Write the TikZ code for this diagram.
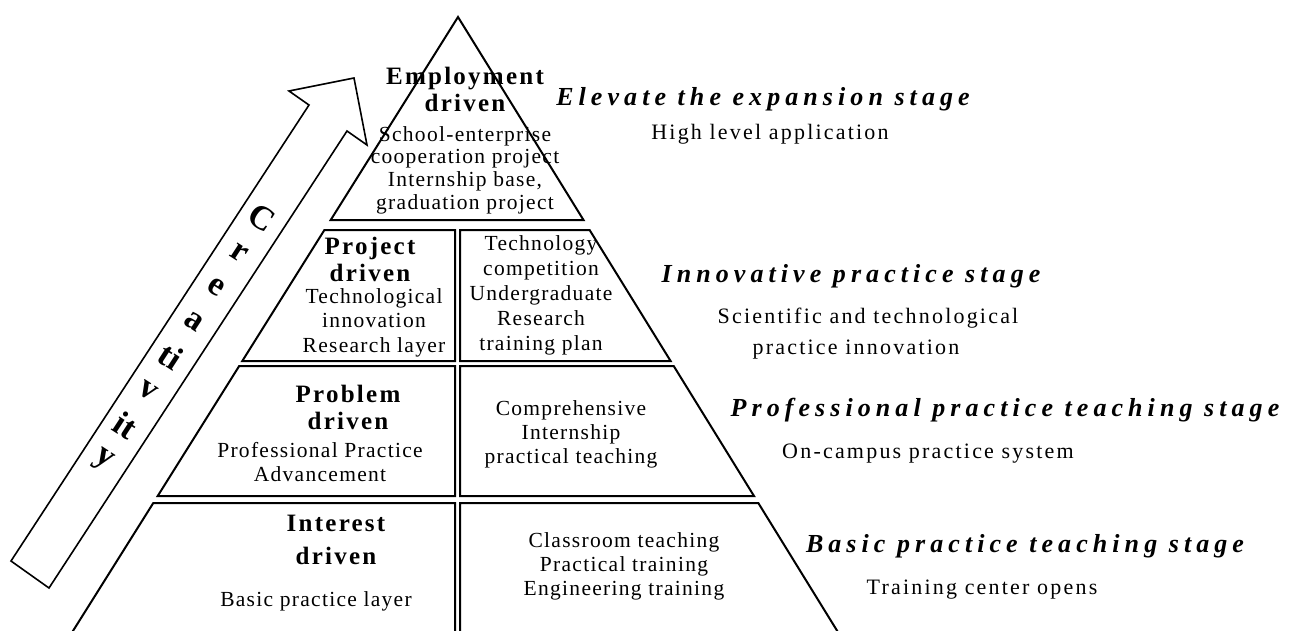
\documentclass[tikz,border=0pt]{standalone}
\usepackage{fontspec}
\setmainfont{Liberation Serif}
\newfontfamily\bodyfont[LetterSpace=6]{Liberation Serif}
\newfontfamily\labfont[LetterSpace=10]{Liberation Serif}
\newfontfamily\ttlfont[LetterSpace=9]{Liberation Serif}
\newfontfamily\stagefont[LetterSpace=19.5]{Liberation Serif}
\newfontfamily\arrowfont{Liberation Serif}
\begin{document}
\begin{tikzpicture}[x=1pt,y=-1pt,line join=miter,
  box/.style={draw=black,line width=2pt},
  arr/.style={draw=black,line width=1.6pt,fill=white},
  ttl/.style={font={\ttlfont\bfseries\fontsize{25}{27}\selectfont},align=center,inner sep=0pt},
  body/.style={font={\bodyfont\fontsize{21.5}{24.5}\selectfont},align=center,inner sep=0pt},
  stage/.style={font={\stagefont\bfseries\itshape\fontsize{26}{28}\selectfont},inner sep=0pt},
  slab/.style={font={\labfont\fontsize{22}{24}\selectfont},inner sep=0pt},
  crl/.style={font={\arrowfont\bfseries\fontsize{34}{34}\selectfont},rotate=-33,inner sep=0pt}]
\useasboundingbox (0,0) rectangle (1291,630);
\clip (0,0) rectangle (1291,630);

% creativity arrow
\draw[arr] (11,561) -- (309,105) -- (289,91) -- (354,78) -- (367,145) -- (347,131) -- (49,588) -- cycle;
\foreach \t [count=\i from 0] in {C,r,e,a,ti,v,it,y}{
  \node[crl] (cr\i) at (262-22.8*\i,218+34.6*\i) {\t};
}

% pyramid
\draw[box] (458,17) -- (583.5,220) -- (330.7,220) -- cycle;
\draw[box] (324.4,230) -- (455,230) -- (455,361) -- (242.3,361) -- cycle;
\draw[box] (460,230) -- (589.6,230) -- (670.6,361) -- (460,361) -- cycle;
\draw[box] (239.2,366) -- (455,366) -- (455,496) -- (157.7,496) -- cycle;
\draw[box] (460,366) -- (673.7,366) -- (754,496) -- (460,496) -- cycle;
\draw[box] (153.3,503) -- (455,503) -- (455,650) -- (61,650) -- cycle;
\draw[box] (460,503) -- (758.3,503) -- (849,650) -- (460,650) -- cycle;

% texts in pyramid
\node[ttl] (t1) at (465,89) {Employment\\driven};
\node[body,font={\bodyfont\fontsize{21.5}{22.7}\selectfont}] (b1) at (465,170) {School-enterprise\\cooperation project\\Internship base,\\graduation project};
\node[ttl] (t2) at (370,259.5) {Project\\driven};
\node[body] (b2) at (374,322.5) {Technological\\innovation\\Research layer};
\node[body,font={\bodyfont\fontsize{21.5}{25}\selectfont}] (b2r) at (541,295) {Technology\\competition\\Undergraduate\\Research\\training plan};
\node[ttl] (t3) at (348,407.5) {Problem\\driven};
\node[body,font={\bodyfont\fontsize{21.5}{24}\selectfont}] (b3) at (320,462) {Professional Practice\\Advancement};
\node[body,font={\bodyfont\fontsize{21.5}{24}\selectfont}] (b3r) at (571,434) {Comprehensive\\Internship\\practical teaching};
\node[ttl,font={\ttlfont\bfseries\fontsize{25}{33}\selectfont}] (t4) at (336,539.5) {Interest\\driven};
\node[body] (b4) at (316,601) {Basic practice layer};
\node[body,font={\bodyfont\fontsize{21.5}{24}\selectfont}] (b4r) at (624,566) {Classroom teaching\\Practical training\\Engineering training};

% stage labels
\node[stage] (s1) at (763,99) {Elevate the expansion stage};
\node[slab] (l1) at (770,134) {High level application};
\node[stage] (s2) at (851,276) {Innovative practice stage};
\node[slab] (l2a) at (868,318) {Scientific and technological};
\node[slab] (l2b) at (856,350) {practice innovation};
\node[stage] (s3) at (1005,410) {Professional practice teaching stage};
\node[slab] (l3) at (928,454) {On-campus practice system};
\node[stage] (s4) at (1025,546) {Basic practice teaching stage};
\node[slab] (l4) at (982,590) {Training center opens};
\end{tikzpicture}
\end{document}
